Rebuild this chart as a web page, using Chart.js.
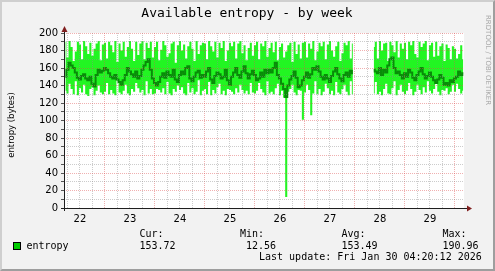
<!DOCTYPE html>
<html>
<head>
<meta charset="utf-8">
<script src="https://cdn.jsdelivr.net/npm/chart.js@4.4.1/dist/chart.umd.min.js"></script>
<style>
    html, body { margin: 0; padding: 0; background: #f2f2f2; }
    #wrap { position: relative; width: 495px; height: 271px; overflow: hidden; background: #f2f2f2; }
    #chart { position: absolute; left: 0; top: 0; }
    .frame {
        position: absolute; left: 0; top: 0; width: 495px; height: 271px;
        box-sizing: border-box; border: 2px solid;
        border-color: #cfcfcf #9e9e9e #9e9e9e #cfcfcf; pointer-events: none;
    }
    .mono {
        position: absolute; font-family: 'DejaVu Sans Mono', monospace;
        font-size: 10px; line-height: 10px; color: #000; white-space: pre;
    }
    #title {
        position: absolute; left: 0; top: 6px; width: 494px; text-align: center;
        font-family: 'DejaVu Sans Mono', monospace; font-size: 13px; line-height: 13px; color: #000;
    }
    #ylabel {
        position: absolute; left: 11px; top: 125px; white-space: nowrap;
        transform: translate(-50%, -50%) rotate(-90deg);
        font-family: 'DejaVu Sans', sans-serif; font-size: 8.5px; line-height: 10px; color: #000;
    }
    #credit {
        position: absolute; left: 491px; top: 15px; white-space: nowrap;
        transform-origin: 0 0; transform: rotate(90deg);
        font-family: 'DejaVu Sans', sans-serif; font-size: 7px; line-height: 7px; color: #a8a8a8;
    }
    .swatch {
        position: absolute; left: 13px; top: 242px; width: 6px; height: 6px;
        background: #00cc00; border: 1px solid #000;
    }
</style>
</head>
<body>
<div id="wrap">
    <canvas id="chart" width="495" height="271"></canvas>
    <div id="title"></div>
    <div id="ylabel"></div>
    <div id="credit"></div>
    <div id="legend"></div>
    <div class="frame"></div>
</div>
<script>
const chartTitle = 'Available entropy - by week';
const yAxisTitle = 'entropy (bytes)';
const creditText = 'RRDTOOL / TOBI OETIKER';
const seriesName = 'entropy';
const lastUpdate = 'Last update: Fri Jan 30 04:20:12 2026';

// hourly samples, first one is Jan 22 05:00 (x = hours since Jan 22 00:00)
const startHour = 5;
const dayLabels = ['22', '23', '24', '25', '26', '27', '28', '29'];
const gridHours = [6, 12, 18, 24, 30, 36, 42, 48, 54, 60, 66, 72, 78, 84, 90, 96, 102, 108,
    114, 120, 126, 132, 138, 144, 150, 156, 162, 168, 174, 180, 186, 192];
const yTicks = [0, 10, 20, 30, 40, 50, 60, 70, 80, 90, 100, 110, 120, 130, 140, 150, 160, 170, 180, 190, 200];

const entropyMax = [
    190, 172, 191, 184, 168, 179, 190, 187, 170, 191, 185, 176, 189, 174, 182, 188, 191, 169, 187,
    189, 171, 190, 186, 178, 191, 167, 188, 180, 190, 173, 184, 191, 182, 168, 190, 175, 188, 191, 170, 189, 183, 190, 172,
    184, 190, 169, 181, 191, 186, 173, 177, 188, 190, 166, 186, 191, 180, 187, 171, 185, 190, 182, 168, 191, 176, 186, 189,
    188, 170, 191, 185, 179, 190, 172, 189, 183, 191, 168, 180, 189, 185, 190, 171, 188, 191, 177, 186, 169, 183, 189, 174,
    186, 190, 170, 188, 185, 191, 173, 183, 189, 178, 190, 169, 184, 188, 172, 179, 186, 189, 167, 190, 176, 187, 171, 189,
    190, 172, 188, 182, 191, 169, 179, 189, 185, 190, 170, 187, 191, 180, 173, 185, 190, 168, 177, 189, 186, 191, 171, 188,
    null, null, null, null, null, null, null, null, null,
    184, 190, 171, 191, 180, 188, 189, 168, 190, 186, 178, 191, 172, 188, 182,
    189, 170, 190, 186, 191, 176, 172, 190, 184, 188, 191, 169, 186, 189, 173, 190, 174, 185, 188, 168, 187, 183, 170, 185,
    182, 171, 176, 186, 170
];
const entropyMin = [
    134, 131, 142, 136, 130, 145, 129, 137, 132, 141, 130, 128, 136, 138, 129, 134, 140, 132, 130,
    133, 143, 130, 135, 131, 129, 146, 132, 130, 134, 141, 131, 129, 136, 133, 143, 137, 132, 135, 129, 145, 131, 136, 130,
    131, 136, 135, 132, 137, 130, 144, 131, 129, 136, 133, 140, 135, 138, 131, 129, 143, 132, 137, 130, 133, 146, 129, 134,
    136, 130, 144, 129, 135, 131, 138, 142, 130, 134, 129, 136, 135, 133, 130, 137, 132, 141, 135, 131, 134, 130, 143, 132,
    131, 134, 143, 136, 132, 129, 145, 131, 133, 130, 137, 142, 129, 134, 126, 12.56, 133, 136, 141, 132, 129, 135, 134, 101,
    132, 141, 135, 106, 131, 145, 130, 136, 129, 133, 142, 137, 130, 134, 129, 144, 132, 130, 136, 141, 133, 129, 145, 130,
    null, null, null, null, null, null, null, null, null,
    131, 144, 130, 133, 129, 136, 142, 131, 130, 137, 145, 129, 135, 141, 133,
    130, 134, 143, 136, 129, 133, 141, 135, 130, 138, 132, 145, 134, 131, 136, 142, 133, 129, 135, 134, 137, 130, 133, 141,
    133, 142, 136, 131, 134
];
const entropyAvg = [
    150, 158, 166, 163, 160, 155, 149, 147, 151, 153, 148, 146, 150, 142, 139, 152, 158, 155, 157,
    160, 158, 154, 150, 148, 152, 147, 144, 141, 146, 152, 160, 156, 153, 150, 156, 148, 151, 158, 163, 167, 170, 158, 148,
    143, 140, 144, 150, 154, 149, 156, 152, 150, 158, 147, 144, 152, 156, 153, 160, 162, 148, 145, 150, 155, 157, 149, 152,
    150, 156, 160, 147, 143, 151, 155, 153, 148, 150, 158, 146, 141, 150, 155, 160, 152, 149, 156, 162, 154, 148, 153, 157,
    152, 146, 148, 155, 150, 158, 154, 158, 155, 160, 166, 152, 148, 142, 136, 127, 140, 147, 151, 156, 149, 138, 140, 146,
    150, 155, 149, 153, 160, 158, 162, 156, 150, 147, 152, 148, 144, 151, 156, 160, 153, 148, 145, 152, 155, 150, 157, 154,
    null, null, null, null, null, null, null, null, null,
    158, 156, 154, 160, 152, 158, 155, 163, 170, 172, 160, 154, 156, 152, 148,
    154, 150, 158, 155, 149, 146, 152, 156, 160, 153, 148, 151, 155, 150, 146, 143, 147, 152, 149, 141, 143, 140, 146, 144,
    148, 150, 156, 152, 154
];

const statNames = ['Cur:', 'Min:', 'Avg:', 'Max:'];
const statValues = ['153.72', '12.56', '153.49', '190.96'];

const majorGrid = 'rgba(222, 79, 79, 0.45)';
const minorGrid = 'rgba(143, 143, 143, 0.45)';
const axisFont = { family: 'DejaVu Sans', size: 10 };

const toPoints = arr => arr.map((v, i) => ({ x: startHour + i, y: v }));

// white canvas behind the plot, axes + arrows on top (rrdtool look)
const rrdFrame = {
    id: 'rrdFrame',
    beforeDraw(chart) {
        const { ctx, chartArea: a } = chart;
        ctx.save();
        ctx.fillStyle = '#ffffff';
        ctx.fillRect(a.left, a.top, a.right - a.left, a.bottom - a.top);
        ctx.restore();
    },
    afterDraw(chart) {
        const { ctx, chartArea: a } = chart;
        ctx.save();
        ctx.strokeStyle = '#1f1f1f';
        ctx.lineWidth = 1;
        ctx.beginPath();
        ctx.moveTo(a.left - 3, a.bottom + 0.5);
        ctx.lineTo(a.right + 4, a.bottom + 0.5);
        ctx.moveTo(a.left + 0.5, a.bottom + 3);
        ctx.lineTo(a.left + 0.5, a.top - 2);
        ctx.stroke();
        ctx.fillStyle = '#801f1f';
        ctx.beginPath();
        ctx.moveTo(a.right + 8, a.bottom + 0.5);
        ctx.lineTo(a.right + 3, a.bottom - 2.5);
        ctx.lineTo(a.right + 3, a.bottom + 3.5);
        ctx.closePath();
        ctx.fill();
        ctx.beginPath();
        ctx.moveTo(a.left + 0.5, a.top - 7);
        ctx.lineTo(a.left - 2.5, a.top - 1);
        ctx.lineTo(a.left + 3.5, a.top - 1);
        ctx.closePath();
        ctx.fill();
        ctx.restore();
    }
};

new Chart(document.getElementById('chart'), {
    type: 'line',
    data: {
        datasets: [
            {
                label: seriesName,
                data: toPoints(entropyAvg),
                borderColor: '#088c08',
                borderWidth: 2,
                stepped: 'middle',
                pointRadius: 0,
                fill: false,
                order: 0
            },
            {
                label: 'max',
                data: toPoints(entropyMax),
                borderWidth: 0,
                borderColor: 'rgba(0,0,0,0)',
                backgroundColor: '#22f522',
                stepped: 'middle',
                pointRadius: 0,
                fill: '+1',
                order: 1
            },
            {
                label: 'min',
                data: toPoints(entropyMin),
                borderWidth: 0,
                borderColor: 'rgba(0,0,0,0)',
                stepped: 'middle',
                pointRadius: 0,
                fill: false,
                order: 2
            }
        ]
    },
    options: {
        animation: false,
        responsive: false,
        layout: { padding: { left: 0, right: 31, top: 33, bottom: 43 } },
        plugins: {
            legend: { display: false },
            tooltip: { enabled: false },
            title: { display: false }
        },
        scales: {
            x: {
                type: 'linear',
                min: 4 + 20 / 60,
                max: 196 + 20 / 60,
                afterBuildTicks: s => { s.ticks = gridHours.map(v => ({ value: v })); },
                afterFit: s => { s.height = 20; },
                ticks: {
                    autoSkip: false,
                    maxRotation: 0,
                    padding: 2,
                    color: '#000',
                    font: axisFont,
                    callback: v => (v % 24 === 12 ? dayLabels[(v - 12) / 24] : '')
                },
                grid: {
                    z: 1,
                    lineWidth: 1,
                    color: c => (c.tick && c.tick.value % 24 === 0 ? majorGrid : minorGrid),
                    tickLength: 3,
                    tickColor: 'rgba(0,0,0,0)'
                },
                border: { display: false, dash: [1, 1] }
            },
            y: {
                min: 0,
                max: 200,
                afterBuildTicks: s => { s.ticks = yTicks.map(v => ({ value: v })); },
                afterFit: s => { s.width = 64; },
                ticks: {
                    autoSkip: false,
                    padding: 3,
                    color: '#000',
                    font: axisFont,
                    callback: v => (v % 20 === 0 ? String(v) : '')
                },
                grid: {
                    z: 1,
                    lineWidth: 1,
                    color: c => (c.tick && c.tick.value % 20 === 0 ? majorGrid : minorGrid),
                    tickLength: 3,
                    tickColor: '#555'
                },
                border: { display: false, dash: [1, 1] }
            }
        }
    },
    plugins: [rrdFrame]
});

/* ---------------- texts around the plot ---------------- */
document.getElementById('title').textContent = chartTitle;
document.getElementById('ylabel').textContent = yAxisTitle;
document.getElementById('credit').textContent = creditText;

const legend = document.getElementById('legend');
const statX = [139.5, 240, 341.5, 442.5];

function addText(text, left, top) {
    const el = document.createElement('div');
    el.className = 'mono';
    el.style.left = left + 'px';
    el.style.top = top + 'px';
    el.textContent = text;
    legend.appendChild(el);
}

const swatch = document.createElement('div');
swatch.className = 'swatch';
legend.appendChild(swatch);
addText(seriesName, 26.5, 240.5);

statNames.forEach((name, i) => {
    addText(name, statX[i], 228.8);
    addText(statValues[i].padStart(6, ' '), statX[i], 240.5);
});
addText(lastUpdate, 259, 252.2);
</script>
</body>
</html>
